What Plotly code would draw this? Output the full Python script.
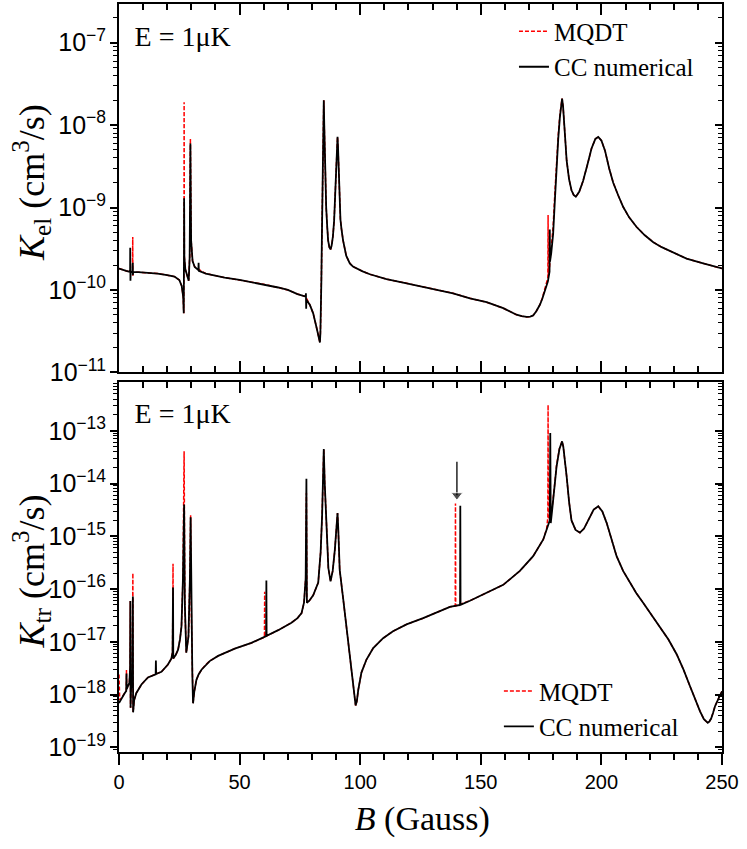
import plotly.graph_objects as go

# ---- data: B in Gauss, K in cm^3/s ----
B_el_cc = [0, 1.5, 3.0, 4.5, 4.6, 4.65, 4.75, 4.85, 5.6, 5.7, 5.75, 5.85, 8, 12, 16, 20, 23, 25, 26,
           26.6, 26.85, 26.95, 27.0, 27.1, 27.5, 28.2, 28.9, 29.3, 29.6, 29.9, 30.5, 31.4, 32.9, 33.0,
           33.1, 36, 43.8, 50, 60, 66, 70, 74, 77.4, 77.5, 77.6, 77.7, 79.1, 80.5, 81.9, 82.7, 83.0,
           83.3, 83.5, 83.7, 83.9, 84.1, 84.3, 84.5, 84.7, 84.9, 85.1, 85.3, 85.6, 85.9, 86.3, 86.7,
           87.2, 87.7, 88.2, 88.7, 89.2, 89.6, 89.9, 90.2, 90.4, 90.6, 90.8, 91.0, 91.25, 91.5, 91.8,
           92.2, 92.9, 94.2, 95.7, 97, 98.5, 101, 104, 110.9, 117.8, 124.7, 131.6, 138.5, 145.5, 152.4,
           159.3, 162, 164.8, 167, 169, 170.5, 171.7, 173, 174.5, 175.5, 176.5, 177.2, 177.8, 178.5,
           178.6, 178.7, 179.2, 180, 180.7, 181.4, 182.1, 182.8, 183.3, 183.7, 184.1, 184.6, 185.1,
           185.6, 186.6, 187.6, 188.5, 189.4, 190.8, 192.4, 194.2, 195.9, 197.5, 198.7, 200, 201.5,
           203.2, 204.9, 207, 209, 211.5, 214.6, 218, 221.5, 225, 228.4, 235.3, 242.2, 250]
K_el_cc = [1.82e-10, 1.74e-10, 1.70e-10, 1.66e-10, 1.66e-10, 3.24e-10, 1.29e-10, 1.66e-10, 1.65e-10,
           2.14e-10, 1.51e-10, 1.64e-10, 1.64e-10, 1.62e-10, 1.58e-10, 1.51e-10, 1.45e-10, 1.32e-10,
           1.12e-10, 8.3e-11, 5.2e-11, 3.2e-10, 1.3e-9, 2.5e-10, 1.78e-10, 1.51e-10, 1.29e-10, 2.5e-10,
           6.0e-9, 4.0e-10, 2.24e-10, 1.9e-10, 1.74e-10, 2.14e-10, 1.70e-10, 1.58e-10, 1.41e-10,
           1.32e-10, 1.17e-10, 1.07e-10, 1.0e-10, 8.9e-11, 8.3e-11, 9.1e-11, 5.9e-11, 7.6e-11, 6.6e-11,
           5.2e-11, 3.5e-11, 2.7e-11, 2.35e-11, 2.3e-11, 3.0e-11, 5.0e-11, 1.3e-10, 4.0e-10, 1.1e-9,
           3.2e-9, 9.0e-9, 2.0e-8, 1.0e-8, 5.0e-9, 2.0e-9, 1.0e-9, 6.0e-10, 4.0e-10, 3.3e-10, 3.1e-10,
           3.5e-10, 4.5e-10, 7.0e-10, 1.26e-9, 2.2e-9, 4.0e-9, 5.8e-9, 7.2e-9, 5.5e-9, 3.2e-9, 1.7e-9,
           1.0e-9, 7.2e-10, 5.6e-10, 4.0e-10, 2.6e-10, 2.1e-10, 1.92e-10, 1.82e-10, 1.68e-10, 1.55e-10,
           1.35e-10, 1.23e-10, 1.12e-10, 1.02e-10, 9.1e-11, 7.9e-11, 7.1e-11, 6.0e-11, 5.5e-11, 5.0e-11,
           4.8e-11, 4.7e-11, 4.75e-11, 4.9e-11, 5.5e-11, 6.6e-11, 7.8e-11, 9.5e-11, 1.1e-10, 1.26e-10,
           1.66e-10, 5.4e-10, 2.2e-10, 2.8e-10, 4.8e-10, 1.2e-9, 3.1e-9, 6.8e-9, 1.26e-8, 1.8e-8, 2.1e-8,
           1.7e-8, 1.0e-8, 5.8e-9, 3.7e-9, 2.2e-9, 1.62e-9, 1.42e-9, 1.35e-9, 1.55e-9, 2.1e-9, 3.3e-9,
           5.2e-9, 6.8e-9, 7.2e-9, 6.5e-9, 4.9e-9, 3.0e-9, 2.0e-9, 1.4e-9, 1.02e-9, 7.6e-10, 5.8e-10,
           4.6e-10, 3.8e-10, 3.3e-10, 2.95e-10, 2.4e-10, 2.1e-10, 1.82e-10]

B_el_mqdt = [0, 1.5, 3.0, 4.5, 5.6, 5.7, 5.75, 5.85, 8, 12, 16, 20, 23, 25, 26, 26.6, 26.85, 26.95,
             27.0, 27.1, 27.5, 28.2, 28.9, 29.3, 29.6, 29.9, 30.5, 31.4, 36, 43.8, 50, 60, 66, 70, 74,
             77.4, 79.1, 80.5, 81.9, 82.7, 83.0, 83.3, 83.5, 83.7, 83.9, 84.1, 84.3, 84.5, 84.7, 84.9,
             85.1, 85.3, 85.6, 85.9, 86.3, 86.7, 87.2, 87.7, 88.2, 88.7, 89.2, 89.6, 89.9, 90.2, 90.4,
             90.6, 90.8, 91.0, 91.25, 91.5, 91.8, 92.2, 92.9, 94.2, 95.7, 97, 98.5, 101, 104, 110.9,
             117.8, 124.7, 131.6, 138.5, 145.5, 152.4, 159.3, 162, 164.8, 167, 169, 170.5, 171.7, 173,
             174.5, 175.5, 176.5, 177.2, 177.8, 177.9, 178.0, 178.5, 179.2, 180, 180.7, 181.4, 182.1,
             182.8, 183.3, 183.7, 184.1, 184.6, 185.1, 185.6, 186.6, 187.6, 188.5, 189.4, 190.8, 192.4,
             194.2, 195.9, 197.5, 198.7, 200, 201.5, 203.2, 204.9, 207, 209, 211.5, 214.6, 218, 221.5,
             225, 228.4, 235.3, 242.2, 250]
K_el_mqdt = [1.82e-10, 1.74e-10, 1.70e-10, 1.66e-10, 1.65e-10, 4.4e-10, 1.45e-10, 1.64e-10, 1.64e-10,
             1.62e-10, 1.58e-10, 1.51e-10, 1.45e-10, 1.32e-10, 1.12e-10, 8.3e-11, 5.2e-11, 3.2e-10,
             1.9e-8, 2.5e-10, 1.78e-10, 1.51e-10, 1.29e-10, 2.5e-10, 6.9e-9, 4.0e-10, 2.24e-10,
             1.9e-10, 1.58e-10, 1.41e-10, 1.32e-10, 1.17e-10, 1.07e-10, 1.0e-10, 8.9e-11, 8.3e-11,
             6.6e-11, 5.2e-11, 3.5e-11, 2.7e-11, 2.35e-11, 2.3e-11, 3.0e-11, 5.0e-11, 1.3e-10, 4.0e-10,
             1.1e-9, 3.2e-9, 9.0e-9, 2.0e-8, 1.0e-8, 5.0e-9, 2.0e-9, 1.0e-9, 6.0e-10, 4.0e-10, 3.3e-10,
             3.1e-10, 3.5e-10, 4.5e-10, 7.0e-10, 1.26e-9, 2.2e-9, 4.0e-9, 5.8e-9, 7.2e-9, 5.5e-9,
             3.2e-9, 1.7e-9, 1.0e-9, 7.2e-10, 5.6e-10, 4.0e-10, 2.6e-10, 2.1e-10, 1.92e-10, 1.82e-10,
             1.68e-10, 1.55e-10, 1.35e-10, 1.23e-10, 1.12e-10, 1.02e-10, 9.1e-11, 7.9e-11, 7.1e-11,
             6.0e-11, 5.5e-11, 5.0e-11, 4.8e-11, 4.7e-11, 4.75e-11, 4.9e-11, 5.5e-11, 6.6e-11, 8.0e-11,
             1.0e-10, 1.2e-10, 1.4e-10, 8.1e-10, 1.5e-10, 1.9e-10, 3.3e-10, 6.0e-10, 1.5e-9, 3.6e-9,
             7.6e-9, 1.35e-8, 1.85e-8, 2.1e-8, 1.7e-8, 1.0e-8, 5.8e-9, 3.7e-9, 2.2e-9, 1.62e-9, 1.42e-9,
             1.35e-9, 1.55e-9, 2.1e-9, 3.3e-9, 5.2e-9, 6.8e-9, 7.2e-9, 6.5e-9, 4.9e-9, 3.0e-9, 2.0e-9,
             1.4e-9, 1.02e-9, 7.6e-10, 5.8e-10, 4.6e-10, 3.8e-10, 3.3e-10, 2.95e-10, 2.4e-10, 2.1e-10,
             1.82e-10]

B_tr_cc = [0, 1.2, 2.4, 3.0, 3.1, 3.2, 3.7, 4.3, 4.6, 4.7, 4.8, 5.0, 5.5, 5.75, 5.85, 6.3, 7.2, 9.3, 12,
           15.2, 15.3, 15.4, 17.6, 20.3, 21.7, 22.2, 22.4, 22.5, 23.5, 24.5, 25.3, 25.9, 26.5, 27.0,
           27.3, 27.9, 28.8, 29.4, 29.7, 30.0, 30.4, 30.7, 31.2, 32.1, 33.0, 34.2, 35.8, 37.6, 41.1,
           44.5, 48, 54.9, 60.4, 61.0, 61.1, 61.2, 66, 71.5, 74, 75.7, 76.7, 77.4, 77.7, 77.9, 78.9,
           80.5, 82.6, 83.6, 84.2, 84.6, 84.9, 85.3, 86.0, 86.8, 87.7, 88.6, 89.5, 90.1, 90.6, 90.9,
           91.2, 91.5, 92.9, 94.3, 95.6, 97.0, 97.6, 98.1, 98.6, 99.2, 100.5, 102.6, 105.4, 109.5, 113.6,
           119.2, 126.1, 133, 137.2, 141.4, 141.5, 141.6, 145.5, 152.4, 159.3, 166.2, 171.7, 175.9,
           177.3, 178.6, 178.8, 179.0, 179.6, 180.5, 181.4, 182.6, 183.2, 183.7, 184.2, 184.6, 185.1,
           185.6, 186.6, 187.6, 189.3, 191.1, 192.8, 194.5, 196.8, 198.7, 200.4, 202.2, 204, 206.3, 209,
           211.8, 214.5, 217.3, 220.8, 224.3, 227.8, 231.2, 234, 236.7, 238.8, 240.9, 242.5, 243.5,
           244.1, 244.8, 245.5, 246.3, 247.1, 248.5, 250]
K_tr_cc = [6.9e-19, 8.9e-19, 1.07e-18, 1.17e-18, 2.5e-18, 1.26e-18, 1.45e-18, 1.66e-18, 3.2e-18,
           5.9e-17, 5.6e-19, 1.26e-18, 1.78e-18, 7.2e-17, 4.6e-19, 7.9e-19, 1.07e-18, 1.55e-18,
           2.1e-18, 2.4e-18, 4.4e-18, 2.45e-18, 2.7e-18, 3.7e-18, 4.8e-18, 6.3e-18, 1.07e-16, 4.8e-18,
           5.6e-18, 7.1e-18, 1.12e-17, 1.95e-17, 1.5e-16, 4.0e-15, 5.0e-17, 6.2e-18, 1.26e-17, 1.6e-16,
           2.3e-15, 3.2e-17, 2.5e-18, 6.8e-19, 1.12e-18, 1.9e-18, 2.4e-18, 2.95e-18, 3.6e-18, 4.3e-18,
           5.4e-18, 6.3e-18, 7.4e-18, 9.5e-18, 1.23e-17, 1.28e-17, 1.45e-16, 1.3e-17, 1.66e-17, 2.3e-17,
           2.8e-17, 3.5e-17, 5.5e-17, 1.6e-16, 1.23e-14, 5.5e-17, 6.0e-17, 7.6e-17, 1.32e-16, 5.0e-16,
           2.4e-15, 1.26e-14, 4.5e-14, 1.0e-14, 1.15e-15, 2.5e-16, 1.4e-16, 2.2e-16, 5.6e-16, 1.6e-15,
           2.75e-15, 1.4e-15, 5.6e-16, 2.3e-16, 6.8e-17, 1.95e-17, 5.4e-18, 1.45e-18, 8.9e-19, 6.2e-19,
           7.4e-19, 1.23e-18, 2.6e-18, 4.6e-18, 7.6e-18, 1.17e-17, 1.58e-17, 2.14e-17, 2.8e-17, 3.8e-17,
           4.6e-17, 5.0e-17, 3.8e-15, 5.0e-17, 6.0e-17, 8.5e-17, 1.2e-16, 2.2e-16, 4.2e-16, 8.7e-16,
           1.32e-15, 2.0e-15, 9.1e-14, 1.78e-15, 3.2e-15, 7.9e-15, 2.1e-14, 4.5e-14, 5.8e-14, 6.3e-14,
           5.0e-14, 3.5e-14, 2.2e-14, 1.35e-14, 4.5e-15, 2.0e-15, 1.32e-15, 1.17e-15, 1.4e-15, 2.0e-15,
           3.2e-15, 3.7e-15, 2.95e-15, 1.78e-15, 9.0e-16, 4.2e-16, 2.2e-16, 1.32e-16, 8.3e-17, 5.5e-17,
           3.2e-17, 1.95e-17, 1.1e-17, 5.8e-18, 3.0e-18, 1.45e-18, 8.3e-19, 4.8e-19, 3.4e-19, 3.0e-19,
           2.9e-19, 3.1e-19, 3.5e-19, 4.5e-19, 6.0e-19, 8.3e-19, 1.15e-18]

B_tr_mqdt = [0, 0.3, 1.2, 2.4, 3.0, 3.1, 3.2, 3.7, 4.3, 4.6, 4.7, 4.8, 5.0, 5.5, 5.75, 5.85, 6.3, 7.2,
             9.3, 12, 15.3, 17.6, 20.3, 21.7, 22.2, 22.4, 22.5, 23.5, 24.5, 25.3, 25.9, 26.5, 27.0,
             27.3, 27.9, 28.8, 29.4, 29.7, 30.0, 30.4, 30.7, 31.2, 32.1, 33.0, 34.2, 35.8, 37.6, 41.1,
             44.5, 48, 54.9, 60.3, 60.4, 60.5, 66, 71.5, 74, 75.7, 76.7, 77.4, 77.7, 77.9, 78.9, 80.5,
             82.6, 83.6, 84.2, 84.6, 84.9, 85.3, 86.0, 86.8, 87.7, 88.6, 89.5, 90.1, 90.6, 90.9, 91.2,
             91.5, 92.9, 94.3, 95.6, 97.0, 97.6, 98.1, 98.6, 99.2, 100.5, 102.6, 105.4, 109.5, 113.6,
             119.2, 126.1, 133, 137.2, 139.4, 139.5, 139.6, 145.5, 152.4, 159.3, 166.2, 171.7, 175.9,
             177.3, 177.8, 177.9, 178.0, 178.6, 179.6, 180.5, 181.4, 182.6, 183.2, 183.7, 184.2, 184.6,
             185.1, 185.6, 186.6, 187.6, 189.3, 191.1, 192.8, 194.5, 196.8, 198.7, 200.4, 202.2, 204,
             206.3, 209, 211.8, 214.5, 217.3, 220.8, 224.3, 227.8, 231.2, 234, 236.7, 238.8, 240.9,
             242.5, 243.5, 244.1, 244.8, 245.5, 246.3, 247.1, 248.5, 250]
K_tr_mqdt = [2.4e-18, 7.9e-19, 8.9e-19, 1.07e-18, 1.17e-18, 2.9e-18, 1.26e-18, 1.45e-18, 1.66e-18,
             3.2e-18, 5.9e-17, 5.6e-19, 1.26e-18, 1.78e-18, 2.0e-16, 4.6e-19, 7.9e-19, 1.07e-18,
             1.55e-18, 2.1e-18, 2.45e-18, 2.7e-18, 3.7e-18, 4.8e-18, 6.3e-18, 3.0e-16, 4.8e-18, 5.6e-18,
             7.1e-18, 1.12e-17, 1.95e-17, 1.5e-16, 4.1e-14, 5.0e-17, 6.2e-18, 1.26e-17, 1.6e-16,
             2.5e-15, 3.2e-17, 2.5e-18, 6.8e-19, 1.12e-18, 1.9e-18, 2.4e-18, 2.95e-18, 3.6e-18, 4.3e-18,
             5.4e-18, 6.3e-18, 7.4e-18, 9.5e-18, 1.22e-17, 8.9e-17, 1.24e-17, 1.66e-17, 2.3e-17, 2.8e-17,
             3.5e-17, 5.5e-17, 1.6e-16, 6.6e-15, 5.5e-17, 6.0e-17, 7.6e-17, 1.32e-16, 5.0e-16, 2.4e-15,
             1.26e-14, 4.5e-14, 1.0e-14, 1.15e-15, 2.5e-16, 1.4e-16, 2.2e-16, 5.6e-16, 1.6e-15,
             2.75e-15, 1.4e-15, 5.6e-16, 2.3e-16, 6.8e-17, 1.95e-17, 5.4e-18, 1.45e-18, 8.9e-19,
             6.2e-19, 7.4e-19, 1.23e-18, 2.6e-18, 4.6e-18, 7.6e-18, 1.17e-17, 1.58e-17, 2.14e-17,
             2.8e-17, 3.8e-17, 4.6e-17, 4.8e-17, 4.2e-15, 4.8e-17, 6.0e-17, 8.5e-17, 1.2e-16, 2.2e-16,
             4.2e-16, 8.7e-16, 1.4e-15, 2.3e-15, 3.1e-13, 2.2e-15, 2.6e-15, 3.6e-15, 8.5e-15, 2.2e-14,
             4.6e-14, 5.8e-14, 6.3e-14, 5.0e-14, 3.5e-14, 2.2e-14, 1.35e-14, 4.5e-15, 2.0e-15, 1.32e-15,
             1.17e-15, 1.4e-15, 2.0e-15, 3.2e-15, 3.7e-15, 2.95e-15, 1.78e-15, 9.0e-16, 4.2e-16,
             2.2e-16, 1.32e-16, 8.3e-17, 5.5e-17, 3.2e-17, 1.95e-17, 1.1e-17, 5.8e-18, 3.0e-18,
             1.45e-18, 8.3e-19, 4.8e-19, 3.4e-19, 3.0e-19, 2.9e-19, 3.1e-19, 3.5e-19, 4.5e-19, 6.0e-19,
             8.3e-19, 1.15e-18]

# arrow marking the resonance near 140 G (bottom panel): tail and head positions
arrow_B = [140.1, 140.1]
arrow_K = [2.6e-14, 6.0e-15]

x_range = [0, 250]
el_range = [-11, -6.53]       # log10 limits
tr_range = [-19.09, -12.07]

SERIF = "Liberation Serif, Times New Roman, serif"
SANS = "Liberation Sans, Arial, sans-serif"
RED = "#ff0000"

fig = go.Figure()

# top panel: K_el
fig.add_trace(go.Scatter(x=B_el_mqdt, y=K_el_mqdt, mode='lines', name='MQDT', legend='legend',
                         line=dict(color=RED, width=1.5, dash='4px,2px')))
fig.add_trace(go.Scatter(x=B_el_cc, y=K_el_cc, mode='lines', name='CC numerical', legend='legend',
                         line=dict(color='black', width=1.8)))
# bottom panel: K_tr
fig.add_trace(go.Scatter(x=B_tr_mqdt, y=K_tr_mqdt, mode='lines', name='MQDT', legend='legend2',
                         xaxis='x2', yaxis='y2', line=dict(color=RED, width=1.5, dash='4px,2px')))
fig.add_trace(go.Scatter(x=B_tr_cc, y=K_tr_cc, mode='lines', name='CC numerical', legend='legend2',
                         xaxis='x2', yaxis='y2', line=dict(color='black', width=1.8)))
# arrow drawn as a line with a triangle head
fig.add_trace(go.Scatter(x=arrow_B, y=arrow_K, mode='lines+markers', xaxis='x2', yaxis='y2',
                         showlegend=False, hoverinfo='skip', line=dict(color='black', width=1.3),
                         marker=dict(symbol='triangle-down', size=[0, 10], color='black')))

# invisible traces so the frame axes on the right / top get drawn
ghost = dict(mode='lines', showlegend=False, hoverinfo='skip', line=dict(color='rgba(0,0,0,0)'))
fig.add_trace(go.Scatter(x=B_el_cc, y=K_el_cc, xaxis='x', yaxis='y3', **ghost))
fig.add_trace(go.Scatter(x=B_tr_cc, y=K_tr_cc, xaxis='x3', yaxis='y2', **ghost))
fig.add_trace(go.Scatter(x=B_tr_cc, y=K_tr_cc, xaxis='x2', yaxis='y4', **ghost))

top_dom = [0.5076, 1.0]
bot_dom = [0.0, 0.495]


def x_axis(ticks, **kw):
    return dict(range=x_range, showgrid=False, zeroline=False, showline=True, linecolor='black',
                linewidth=2, ticks=ticks, tickwidth=1.5, tickcolor='black', ticklen=11,
                tickmode='linear', tick0=0, dtick=50,
                minor=dict(ticks=ticks, tickmode='linear', tick0=0, dtick=10, ticklen=6,
                           tickwidth=1.5, tickcolor='black', showgrid=False),
                **kw)


def y_axis(ticks, rng, **kw):
    return dict(type='log', range=rng, showgrid=False, zeroline=False, showline=True,
                linecolor='black', linewidth=2, ticks=ticks, tickwidth=1.5, tickcolor='black',
                ticklen=7, dtick=1, exponentformat='power', showexponent='all',
                tickfont=dict(family=SANS, size=20, color='black'),
                minor=dict(ticks=ticks, ticklen=4, tickwidth=1, tickcolor='black', showgrid=False),
                **kw)


fig.update_layout(
    width=747, height=849,
    margin=dict(l=119, r=25, t=4, b=97, autoexpand=False),
    paper_bgcolor='white', plot_bgcolor='white',
    xaxis=x_axis('inside', domain=[0, 1], anchor='y', mirror='ticks', showticklabels=False),
    yaxis=y_axis('outside', el_range, domain=top_dom, anchor='x'),
    yaxis3=y_axis('inside', el_range, overlaying='y', side='right', anchor='x', showticklabels=False),
    xaxis2=x_axis('outside', domain=[0, 1], anchor='y2',
                  tickfont=dict(family=SANS, size=20, color='black')),
    xaxis3=x_axis('inside', overlaying='x2', side='top', anchor='y2', showticklabels=False),
    yaxis2=y_axis('outside', tr_range, domain=bot_dom, anchor='x2'),
    yaxis4=y_axis('inside', tr_range, overlaying='y2', side='right', anchor='x2',
                  showticklabels=False),
    legend=dict(x=0.655, y=0.994, xanchor='left', yanchor='top', bgcolor='rgba(0,0,0,0)',
                font=dict(family=SERIF, size=25, color='black'), tracegroupgap=0),
    legend2=dict(x=0.63, y=0.112, xanchor='left', yanchor='top', bgcolor='rgba(0,0,0,0)',
                 font=dict(family=SERIF, size=25, color='black'), tracegroupgap=0),
    showlegend=True,
)


# panel labels and axis titles, drawn as labels of empty paper-space boxes
def text_box(text, xc, yc, w, h, size, angle=0):
    fig.add_shape(type='rect', xref='paper', yref='paper', x0=xc - w / 2, x1=xc + w / 2,
                  y0=yc - h / 2, y1=yc + h / 2, line=dict(width=0), fillcolor='rgba(0,0,0,0)',
                  layer='above',
                  label=dict(text=text, textposition='middle center', textangle=angle,
                             padding=0, font=dict(family=SERIF, size=size, color='black')))


text_box('E = 1\u03bcK', 0.1056, 0.96, 0.2, 0.05, 28)
text_box('E = 1\u03bcK', 0.1056, 0.457, 0.2, 0.05, 28)
text_box('<i>K</i><sub>el</sub> (cm<sup>3</sup>/s)', -0.143, 0.762, 0.08, 0.3, 36, -90)
text_box('<i>K</i><sub>tr</sub> (cm<sup>3</sup>/s)', -0.143, 0.242, 0.08, 0.3, 36, -90)
text_box('<i>B</i> (Gauss)', 0.503, -0.084, 0.4, 0.05, 34)

# the page body has a default 8px margin; drop it so the figure sits at the window corner
fig.write_html("out.html", post_script="document.body.style.margin='0';",
               config={'displayModeBar': False})
